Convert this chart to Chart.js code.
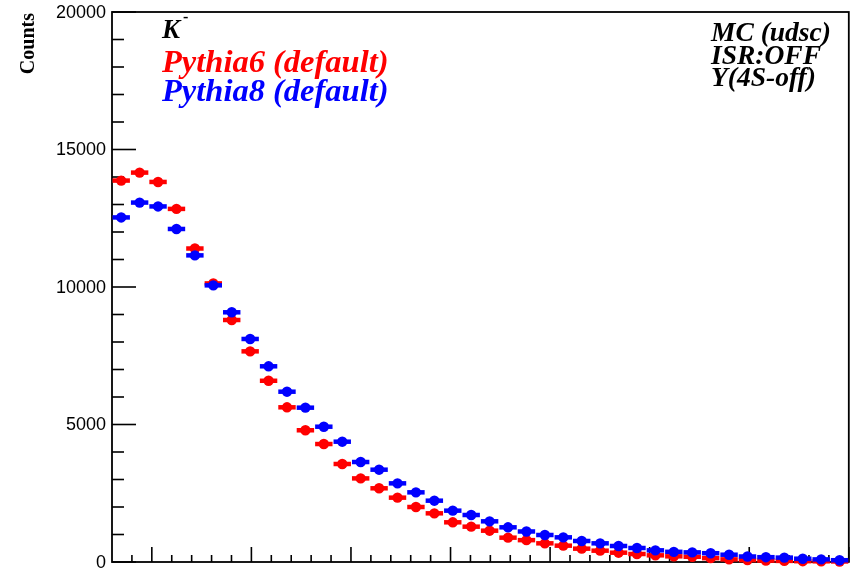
<!DOCTYPE html>
<html>
<head>
<meta charset="utf-8">
<script src="https://cdn.jsdelivr.net/npm/chart.js@4.4.0/dist/chart.umd.min.js"></script>
<style>
  html, body { margin: 0; padding: 0; background: #fff; }
  canvas { display: block; }
</style>
</head>
<body>
<canvas id="chart" width="854" height="570"></canvas>
<script>
// histogram binning
var xMin = 0.3;
var xMax = 4.0;
var nBins = 40;

// bin contents
var pythia6 = [13870, 14160, 13820, 12840, 11400, 10130, 8800, 7660, 6590, 5625,
               4790, 4290, 3564, 3040, 2680, 2340, 2000, 1770, 1443, 1285,
               1139, 885, 795, 679, 594, 485, 412, 339, 291, 242,
               206, 190, 140, 95, 70, 50, 40, 30, 25, 20];
var pythia8 = [12530, 13070, 12930, 12110, 11150, 10060, 9080, 8110, 7116, 6193,
               5612, 4920, 4375, 3636, 3357, 2860, 2533, 2230, 1867, 1709,
               1479, 1261, 1110, 982, 897, 764, 679, 582, 509, 424,
               370, 350, 320, 265, 200, 175, 160, 120, 95, 65];

// axis ticks
var yTicks = [0, 5000, 10000, 15000, 20000];
var yMinorStep = 1000;
var xMajorTicks = [0.5, 1.0, 1.5, 2.0, 2.5, 3.0, 3.5, 4.0];
var xMinorStep = 0.1;

var binWidth = (xMax - xMin) / nBins;

function toPoints(values) {
  var pts = [];
  for (var i = 0; i < values.length; i++) {
    pts.push({ x: xMin + (i + 0.5) * binWidth, y: values[i] });
  }
  return pts;
}

// 横方向のエラーバー（ビン幅）
var errorBars = {
  id: 'errorBars',
  beforeDatasetDraw: function (chart, args) {
    var ctx = chart.ctx;
    var xs = chart.scales.x, ys = chart.scales.y;
    var ds = chart.data.datasets[args.index];
    ctx.save();
    ctx.strokeStyle = ds.backgroundColor;
    ctx.lineWidth = 4.5;
    ds.data.forEach(function (p) {
      var y = ys.getPixelForValue(p.y);
      ctx.beginPath();
      ctx.moveTo(xs.getPixelForValue(p.x - binWidth / 2) + 0.5, y);
      ctx.lineTo(xs.getPixelForValue(p.x + binWidth / 2) - 0.5, y);
      ctx.stroke();
    });
    ctx.restore();
  }
};

// ROOT風の枠と目盛り
var rootFrame = {
  id: 'rootFrame',
  beforeDatasetsDraw: function (chart) {
    var ctx = chart.ctx;
    var a = chart.chartArea;
    var xs = chart.scales.x, ys = chart.scales.y;
    ctx.save();
    ctx.strokeStyle = '#000';
    ctx.lineWidth = 1.8;
    ctx.strokeRect(a.left, a.top, a.right - a.left, a.bottom - a.top);

    // y ticks
    ctx.lineWidth = 1.6;
    for (var v = 0; v <= 20000; v += yMinorStep) {
      var py = ys.getPixelForValue(v);
      var len = (yTicks.indexOf(v) >= 0) ? 24 : 12;
      ctx.beginPath();
      ctx.moveTo(a.left, py);
      ctx.lineTo(a.left + len, py);
      ctx.stroke();
    }
    // x ticks
    for (var k = Math.round(xMin / xMinorStep) + 1; k <= Math.round(xMax / xMinorStep); k++) {
      var xv = k * xMinorStep;
      var px = xs.getPixelForValue(xv);
      var major = xMajorTicks.some(function (m) { return Math.abs(m - xv) < 1e-6; });
      var l = major ? 15 : 7;
      ctx.beginPath();
      ctx.moveTo(px, a.bottom);
      ctx.lineTo(px, a.bottom - l);
      ctx.stroke();
    }

    // y labels
    ctx.fillStyle = '#000';
    ctx.font = '18px "Liberation Sans", Arial, sans-serif';
    ctx.textAlign = 'right';
    ctx.textBaseline = 'middle';
    yTicks.forEach(function (t) {
      ctx.fillText(String(t), 106, ys.getPixelForValue(t) + 1);
    });

    // axis title
    ctx.save();
    ctx.translate(34, 13);
    ctx.rotate(-Math.PI / 2);
    ctx.font = 'bold 20px "Liberation Serif", "Times New Roman", serif';
    ctx.textAlign = 'right';
    ctx.textBaseline = 'alphabetic';
    ctx.fillText('Counts', 0, 0);
    ctx.restore();
    ctx.restore();
  },
  afterDraw: function (chart) {
    var ctx = chart.ctx;
    ctx.save();
    ctx.textAlign = 'left';
    ctx.textBaseline = 'alphabetic';
    var serif = '"Liberation Serif", "Times New Roman", serif';

    ctx.fillStyle = '#000';
    ctx.font = 'italic bold 27px ' + serif;
    ctx.fillText('K', 162, 38);
    ctx.font = 'bold 16px ' + serif;
    ctx.fillText('-', 183, 22);

    ctx.font = 'italic bold 32.5px ' + serif;
    ctx.fillStyle = '#ff0000';
    ctx.fillText('Pythia6 (default)', 162, 72);
    ctx.fillStyle = '#0000ff';
    ctx.fillText('Pythia8 (default)', 162, 101);

    ctx.fillStyle = '#000';
    ctx.font = 'italic bold 27.5px ' + serif;
    ctx.fillText('MC (udsc)', 711, 41);
    ctx.fillText('ISR:OFF', 711, 63.5);
    ctx.fillText('Y(4S-off)', 711, 86);
    ctx.restore();
  }
};

var ctx = document.getElementById('chart');
var myChart = new Chart(ctx, {
  type: 'scatter',
  data: {
    datasets: [
      {
        label: 'Pythia8 (default)',
        data: toPoints(pythia8),
        backgroundColor: '#0000ff',
        borderWidth: 0,
        pointRadius: 5.2,
        clip: false,
        order: 0
      },
      {
        label: 'Pythia6 (default)',
        data: toPoints(pythia6),
        backgroundColor: '#ff0000',
        borderWidth: 0,
        pointRadius: 5.2,
        clip: false,
        order: 1
      }
    ]
  },
  options: {
    responsive: false,
    animation: false,
    layout: { padding: { left: 112, right: 4, top: 12, bottom: 8 } },
    plugins: {
      legend: { display: false },
      tooltip: { enabled: false }
    },
    scales: {
      x: { type: 'linear', min: xMin, max: xMax, display: false },
      y: { type: 'linear', min: 0, max: 20000, display: false }
    }
  },
  plugins: [errorBars, rootFrame]
});
</script>
</body>
</html>
